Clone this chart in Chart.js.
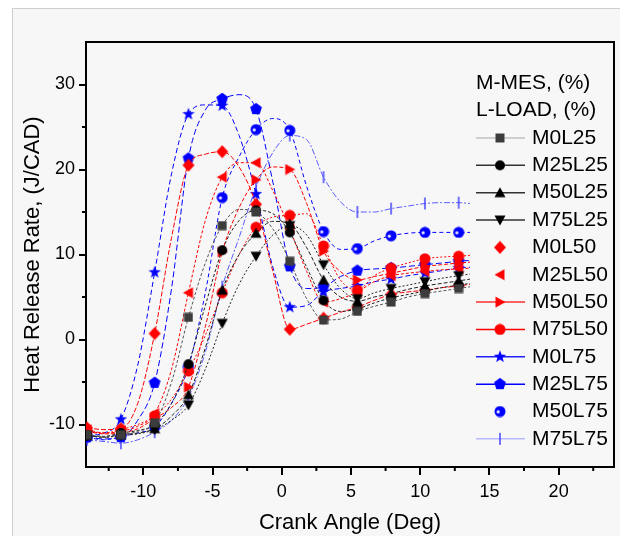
<!DOCTYPE html>
<html>
<head>
<meta charset="utf-8">
<script src="https://cdn.jsdelivr.net/npm/chart.js@4.4.1/dist/chart.umd.min.js"></script>
<style>
  html, body { margin: 0; padding: 0; background: #fff; }
  #wrap { position: relative; width: 620px; height: 536px; overflow: hidden; }
  #frame { position: absolute; left: 12px; top: 8px; width: 640px; height: 560px; border: 1px solid #cfcfcf; background: #f7f7f7; }
  #hrr { position: absolute; left: 0; top: 0; }
</style>
</head>
<body>
<div id="wrap">
  <div id="frame"></div>
  <canvas id="hrr" width="620" height="536"></canvas>
</div>
<script>
// crank angle grid (deg); markers sit on every second sample
const crankAngle = [-14.06, -12.84, -11.62, -10.4, -9.18, -7.96, -6.74, -5.52, -4.3, -3.08, -1.86, -0.64,
                    0.58, 1.8, 3.02, 4.24, 5.46, 6.68, 7.9, 9.12, 10.34, 11.56, 12.78, 13.6];

// heat release rate, J/CAD
const hrrM0L25  = [-11.2, -11.4, -11.2, -10.8, -9.8, -5.0, 2.6, 9.0, 13.4, 15.3, 15.0, 13.0, 9.2, 4.8, 2.3, 2.4, 3.3, 3.9, 4.4, 5.0, 5.4, 5.7, 6.0, 6.2];
const hrrM25L25 = [-11.3, -11.4, -11.0, -10.7, -10.0, -7.5, -2.9, 4.0, 10.5, 14.0, 15.2, 14.8, 12.6, 8.5, 4.6, 3.3, 3.6, 4.3, 4.9, 5.3, 5.7, 6.1, 6.4, 6.6];
const hrrM50L25 = [-11.3, -11.5, -11.2, -11.0, -10.5, -9.0, -6.5, -1.0, 5.8, 10.0, 12.5, 13.9, 13.6, 10.8, 7.0, 5.0, 4.5, 5.0, 5.4, 5.9, 6.3, 6.6, 6.9, 7.1];
const hrrM75L25 = [-11.3, -11.5, -11.3, -11.1, -10.6, -9.5, -7.7, -3.5, 1.9, 6.5, 9.8, 12.3, 13.4, 12.3, 8.8, 6.0, 4.8, 5.5, 6.0, 6.4, 6.8, 7.2, 7.5, 7.7];
const hrrM0L50  = [-10.4, -10.6, -10.5, -7.5, 0.7, 12.0, 20.5, 21.8, 22.1, 20.3, 15.9, 8.0, 1.2, 1.8, 2.5, 3.2, 3.8, 4.6, 5.3, 5.6, 5.8, 6.1, 6.3, 6.5];
const hrrM25L50 = [-10.6, -11.0, -10.8, -10.2, -8.7, -3.5, 5.5, 14.0, 19.1, 20.8, 20.8, 17.5, 13.0, 8.0, 4.4, 4.8, 5.6, 6.8, 7.5, 7.8, 8.0, 8.2, 8.3, 8.4];
const hrrM50L50 = [-10.8, -11.1, -11.0, -10.5, -9.3, -8.0, -5.6, 1.5, 10.3, 15.5, 18.8, 20.3, 20.0, 16.0, 10.4, 8.0, 7.0, 7.4, 7.8, 8.2, 8.6, 8.8, 9.0, 9.1];
const hrrM75L50 = [-10.8, -11.0, -10.6, -10.0, -9.0, -7.0, -3.7, 0.5, 5.5, 10.0, 13.2, 14.4, 14.6, 14.8, 11.0, 7.0, 5.8, 7.5, 8.4, 9.0, 9.5, 9.7, 9.8, 9.9];
const hrrM0L75  = [-11.3, -11.0, -9.4, -3.0, 7.9, 19.5, 26.5, 27.6, 27.5, 24.0, 17.1, 8.5, 3.8, 4.0, 5.6, 6.0, 6.3, 6.8, 7.1, 7.5, 7.8, 8.1, 8.4, 8.5];
const hrrM25L75 = [-11.5, -11.7, -11.5, -9.5, -5.1, 6.0, 21.3, 27.0, 28.3, 28.8, 27.1, 18.5, 8.6, 6.0, 6.2, 7.4, 8.1, 8.3, 8.4, 8.6, 8.8, 9.0, 9.2, 9.3];
const hrrM50L75 = [-11.5, -11.8, -11.4, -11.0, -10.3, -7.5, -3.2, 5.5, 16.7, 21.5, 24.7, 26.0, 24.6, 18.0, 12.7, 10.6, 10.7, 11.6, 12.2, 12.5, 12.6, 12.6, 12.6, 12.6];
const hrrM75L75 = [-11.8, -12.0, -12.2, -11.8, -10.9, -9.5, -6.8, -1.5, 6.2, 12.0, 17.9, 22.0, 24.0, 23.5, 19.1, 16.2, 15.0, 15.0, 15.4, 15.7, 16.0, 16.1, 16.1, 16.0];

const seriesNames = ['M0L25', 'M25L25', 'M50L25', 'M75L25', 'M0L50', 'M25L50', 'M50L50', 'M75L50', 'M0L75', 'M25L75', 'M50L75', 'M75L75'];
const seriesValues = [hrrM0L25, hrrM25L25, hrrM50L25, hrrM75L25, hrrM0L50, hrrM25L50, hrrM50L50, hrrM75L50, hrrM0L75, hrrM25L75, hrrM50L75, hrrM75L75];

const xTicks = [-10, -5, 0, 5, 10, 15, 20];
const yTicks = [-10, 0, 10, 20, 30];
const xMinor = [-12.5, -7.5, -2.5, 2.5, 7.5, 12.5, 17.5, 22.5];
const yMinor = [-5, 5, 15, 25];

const FONT = '"Liberation Sans", Arial, sans-serif';

// ---- marker glyphs ----
function glyph(size, draw) {
  const c = document.createElement('canvas');
  c.width = size; c.height = size;
  const g = c.getContext('2d');
  g.translate(size / 2, size / 2);
  draw(g);
  return c;
}
function poly(g, pts, color) {
  g.beginPath();
  pts.forEach(([x, y], i) => i ? g.lineTo(x, y) : g.moveTo(x, y));
  g.closePath();
  g.fillStyle = color;
  g.fill();
}
function disc(g, r, color) {
  g.beginPath(); g.arc(0, 0, r, 0, Math.PI * 2); g.fillStyle = color; g.fill();
}
function starPts(ro, ri, n) {
  const p = [];
  for (let i = 0; i < n * 2; i++) {
    const r = i % 2 ? ri : ro, a = -Math.PI / 2 + i * Math.PI / n;
    p.push([r * Math.cos(a), r * Math.sin(a)]);
  }
  return p;
}
const RED = '#ff0000', BLUE = '#0000ff';
const markers = [
  glyph(10, g => { g.fillStyle = '#3c3c3c'; g.fillRect(-4.5, -4.5, 9, 9); }),
  glyph(12, g => disc(g, 5, '#000')),
  glyph(12, g => poly(g, [[0, -5.5], [5.5, 4.5], [-5.5, 4.5]], '#000')),
  glyph(12, g => poly(g, [[0, 5.5], [5.5, -4.5], [-5.5, -4.5]], '#000')),
  glyph(14, g => poly(g, [[0, -6.5], [6, 0], [0, 6.5], [-6, 0]], RED)),
  glyph(12, g => poly(g, [[-5.5, 0], [4.5, -5.5], [4.5, 5.5]], RED)),
  glyph(12, g => poly(g, [[5.5, 0], [-4.5, -5.5], [-4.5, 5.5]], RED)),
  glyph(12, g => disc(g, 5.5, RED)),
  glyph(14, g => poly(g, starPts(6.5, 2.7, 5), BLUE)),
  glyph(14, g => poly(g, starPts(6.2, 6.2 * Math.cos(Math.PI / 5), 5).filter((_, i) => i % 2 === 0), BLUE)),
  glyph(12, g => { disc(g, 5.5, BLUE); g.beginPath(); g.arc(-1.8, 0.3, 1.6, 0, Math.PI * 2); g.fillStyle = '#e8e8ff'; g.fill(); }),
  glyph(14, g => { g.fillStyle = '#3a3aff'; g.fillRect(-0.7, -6, 1.4, 12); })
];

const lineColors = ['#555555', '#222222', '#222222', '#222222', RED, RED, RED, RED, BLUE, BLUE, BLUE, '#5a5aff'];
const lineDashes = [[3, 2], [3, 2], [4, 2], [2, 2], [5, 2], [3, 2], [4, 2], [2, 2], [5, 3], [6, 3], [4, 3], [6, 2, 2, 2]];
const legendLines = ['#c0c0c0', '#333333', '#333333', '#333333', null, null, '#ff3030', RED, '#2020ff', BLUE, null, '#b8b8ff'];

const datasets = seriesNames.map((name, i) => ({
  label: name,
  data: crankAngle.map((x, k) => ({ x, y: seriesValues[i][k] })),
  borderColor: lineColors[i],
  borderWidth: 1,
  borderDash: lineDashes[i],
  cubicInterpolationMode: 'monotone',
  pointStyle: markers[i],
  pointRadius: c => (c.dataIndex % 2 === 0 && c.dataIndex < 23 ? 5 : 0),
  pointHoverRadius: 0,
  clip: 0
}));

// minor ticks, top/right frame and the two-line legend
const decorations = {
  id: 'decorations',
  afterDraw(chart) {
    const { ctx, chartArea: a } = chart;
    const xs = chart.scales.x, ys = chart.scales.y;
    ctx.save();
    ctx.strokeStyle = '#000';
    ctx.lineWidth = 2;
    ctx.beginPath();
    xMinor.forEach(v => { const p = xs.getPixelForValue(v); ctx.moveTo(p, a.bottom); ctx.lineTo(p, a.bottom + 4); });
    yMinor.forEach(v => { const p = ys.getPixelForValue(v); ctx.moveTo(a.left, p); ctx.lineTo(a.left - 4, p); });
    ctx.moveTo(a.left - 1, a.top); ctx.lineTo(a.right, a.top); ctx.lineTo(a.right, a.bottom);
    ctx.stroke();

    ctx.font = '21px ' + FONT;
    ctx.fillStyle = '#000';
    ctx.textBaseline = 'middle';
    ctx.fillText('M-MES, (%)', 476, 83);
    ctx.fillText('L-LOAD, (%)', 476, 110);
    chart.data.datasets.forEach((ds, i) => {
      const y = 138 + 27.35 * i;
      if (legendLines[i]) {
        ctx.strokeStyle = legendLines[i];
        ctx.lineWidth = 1.5;
        ctx.beginPath(); ctx.moveTo(476, y); ctx.lineTo(525, y); ctx.stroke();
      }
      const m = ds.pointStyle;
      ctx.drawImage(m, 500 - m.width / 2, y - m.height / 2);
      ctx.fillText(ds.label, 532, y);
    });
    ctx.restore();
  }
};

new Chart(document.getElementById('hrr'), {
  type: 'line',
  data: { datasets },
  options: {
    responsive: false,
    animation: false,
    events: [],
    layout: { padding: { left: 12, right: 3, top: 42, bottom: 0 } },
    plugins: { legend: { display: false }, tooltip: { enabled: false } },
    scales: {
      x: {
        type: 'linear', min: -14.14, max: 24,
        afterBuildTicks: s => { s.ticks = xTicks.map(v => ({ value: v })); },
        afterFit: s => { s.height = 69; },
        border: { color: '#000', width: 2 },
        grid: { drawOnChartArea: false, color: '#000', lineWidth: 2, tickLength: 8 },
        ticks: { color: '#000', font: { family: FONT, size: 18 }, padding: 6, maxRotation: 0 },
        title: { display: true, text: 'Crank Angle (Deg)', color: '#000', font: { family: FONT, size: 22 }, padding: { top: 0, bottom: 0 } }
      },
      y: {
        type: 'linear', min: -15, max: 35,
        afterBuildTicks: s => { s.ticks = yTicks.map(v => ({ value: v })); },
        afterFit: s => { s.width = 74; },
        border: { color: '#000', width: 2 },
        grid: { drawOnChartArea: false, color: '#000', lineWidth: 2, tickLength: 7 },
        ticks: { color: '#000', font: { family: FONT, size: 18 }, padding: 4 },
        title: { display: true, text: 'Heat Release Rate, (J/CAD)', color: '#000', font: { family: FONT, size: 22 }, padding: { top: 8, bottom: 0 } }
      }
    }
  },
  plugins: [decorations]
});
</script>
</body>
</html>
